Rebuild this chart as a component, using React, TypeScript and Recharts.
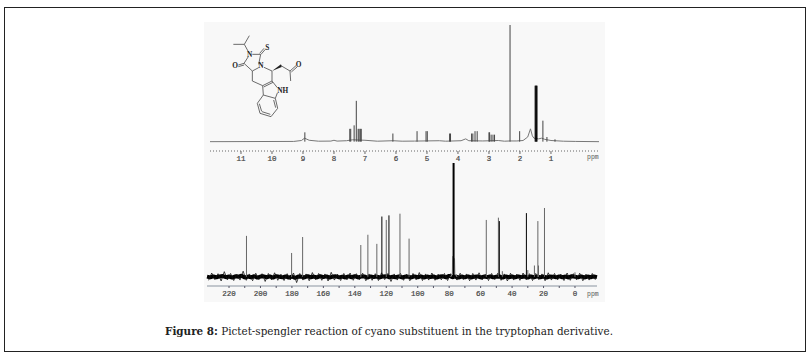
import React from "react";
import { LineChart, Line, XAxis, YAxis } from "recharts";

const CAPTION_LABEL = "Figure 8:";
const CAPTION_TEXT = " Pictet-spengler reaction of cyano substituent in the tryptophan derivative.";

// 1H spectrum
const protonTicks = [11, 10, 9, 8, 7, 6, 5, 4, 3, 2, 1];
const protonBasePpm = [12, 9.3, 9.05, 8.95, 8.8, 8.5, 8.1, 8.0, 7.9, 7.6, 7.4, 7.0, 6.6, 6.1, 5.8, 5.4, 4.6, 4.4, 3.9, 3.75, 3.65, 3.2, 2.7, 2.5, 2.32, 2.1, 1.9, 1.75, 1.66, 1.6, 1.55, 1.4, 1.3, 1.2, 1.0, 0.6, 0.2, -0.55];
const protonBase = [0, 0.2, 1, 3, 1.2, 0.4, 0.5, 1.2, 0.5, 0.8, 1.6, 1.2, 0.4, 0.8, 0.4, 0.5, 0.8, 0.4, 0.8, 2.4, 0.8, 0.6, 1, 0.4, 0.6, 0.6, 1, 4, 11, 5, 3, 2.4, 3, 2, 1, 0.4, 0.2, 0];
const protonPeakPpm = [8.94, 7.49, 7.46, 7.35, 7.28, 7.22, 7.19, 7.15, 7.12, 6.1, 5.32, 5.03, 4.99, 4.27, 4.24, 3.56, 3.52, 3.45, 3.38, 3.0, 2.98, 2.93, 2.87, 2.82, 2.32, 2.01, 1.26, 1.13, 0.87];
const protonPeakHeight = [8, 11, 11, 14, 35, 11, 11, 11, 11, 7, 9, 9, 9, 7, 7, 7, 7, 9, 9, 8, 8, 6, 6, 6, 100, 9, 18, 4, 2];
const protonDoubletPpm = [1.51, 1.49, 1.47, 1.45];
const protonDoubletHeight = [48, 48, 48, 48];

// 13C spectrum
const carbonTicks = [220, 210, 200, 190, 180, 170, 160, 150, 140, 130, 120, 110, 100, 90, 80, 70, 60, 50, 40, 30, 20, 10, 0];
const carbonLabels = [220, 200, 180, 160, 140, 120, 100, 80, 60, 40, 20, 0];
const carbonNoisePpm = [234, 232, 230, 228, 226, 224, 222, 220, 218, 216, 214, 212, 210, 208, 206, 204, 202, 200, 198, 196, 194, 192, 190, 188, 186, 184, 182, 180, 178, 176, 174, 172, 170, 168, 166, 164, 162, 160, 158, 156, 154, 152, 150, 148, 146, 144, 142, 140, 138, 136, 134, 132, 130, 128, 126, 124, 122, 120, 118, 116, 114, 112, 110, 108, 106, 104, 102, 100, 98, 96, 94, 92, 90, 88, 86, 84, 82, 80, 78, 76, 74, 72, 70, 68, 66, 64, 62, 60, 58, 56, 54, 52, 50, 48, 46, 44, 42, 40, 38, 36, 34, 32, 30, 28, 26, 24, 22, 20, 18, 16, 14, 12, 10, 8, 6, 4, 2, 0, -2, -4, -6, -8, -10, -12, -14];
const carbonNoise = [0.2, -0.4, 0.5, -0.5, 0.4, 0.7, -0.3, 0.3, -0.6, 0.5, 0.1, 1, -0.5, 0.3, -0.4, 0.6, -0.7, 0.3, 0.5, -0.3, 0.4, -0.6, 0.7, 0.1, -0.4, 0.5, -0.7, 0.3, -1, 0.4, 0.2, -0.5, 0.6, -0.3, 0.3, -0.5, 0.6, -0.2, 0.5, -0.6, 0.3, 0.5, -0.4, 0.2, -0.5, 0.4, -0.3, 0.6, -0.5, 0.3, 0.4, -0.6, 0.5, -0.2, 0.3, -0.5, 0.4, 0.6, -0.4, 0.2, -0.3, 0.5, -0.5, 0.3, 0.2, -0.5, 0.4, -0.3, 0.5, -0.5, 0.3, -0.2, 0.4, -0.6, 0.3, 0.5, -0.4, 1, -0.3, 0.5, -0.6, 0.3, -0.4, 0.4, -0.5, 0.2, 0.4, -0.5, 0.3, -0.2, 0.5, -0.4, 0.2, 0.4, -0.6, 0.5, -0.3, 0.3, -0.4, 0.5, -0.2, 0.3, -0.6, 0.4, -0.3, 0.5, -0.4, 0.3, -0.5, 0.3, 0.2, -0.4, 0.5, -0.3, 0.3, -0.5, 0.6, 0.2, -0.4, 0.4, -0.5, 0.3, -0.3, 0.4, -0.2];
const carbonSpikePpm = [233, 231, 229, 227, 225, 223, 221, 219, 217, 215, 213, 211, 209, 207, 205, 203, 201, 199, 197, 195, 193, 191, 189, 187, 185, 183, 181, 179, 177, 175, 173, 171, 169, 167, 165, 163, 161, 159, 157, 155, 153, 151, 149, 147, 145, 143, 141, 139, 137, 135, 133, 131, 129, 127, 125, 123, 121, 119, 117, 115, 113, 111, 109, 107, 105, 103, 101, 99, 97, 95, 93, 91, 89, 87, 85, 83, 81, 79, 75, 73, 71, 69, 67, 65, 63, 61, 59, 57, 55, 53, 51, 49, 47, 45, 43, 41, 39, 37, 35, 33, 31, 29, 27, 25, 23, 21, 19, 17, 15, 13, 11, 9, 7, 5, 3, 1, -1, -3, -5, -7, -9, -11, -13];
const carbonSpike = [-3, 3.4, -2.4, 2.8, -3.6, 4.6, -2.6, 3, -3.2, 2.4, -2.8, 5, -3, 2.6, -3.4, 3.2, -2.4, 2.8, -4, 3, -2.6, 3.6, -3, 2.4, -3.2, 2.8, -2.6, 3.4, -5, 3, -2.8, 2.6, -3.4, 3.8, -2.4, 3, -3, 2.6, -3.6, 4, -2.8, 2.4, -3.2, 3, -2.6, 3.4, -3, 2.8, -2.4, 3.2, -3.4, 2.6, -3, 2.8, -3.2, 3.6, -2.4, 3, -4, 2.6, -2.8, 3.2, -3, 2.4, -3.4, 3, -2.6, 3.8, -3.2, 2.6, -2.8, 3.4, -3, 2.4, -2.6, 3, -3.2, 2.8, -2.8, 3.2, -2.4, 2.6, -3.4, 3, -2.8, 3.6, -2.6, 2.4, -3.2, 3, -2.4, 3.4, -3, 2.6, -3.6, 3.2, -2.8, 2.4, -3, 3.4, -2.6, 2.8, -3.2, 3, -2.4, 2.6, -3.4, 3.6, -2.8, 3, -2.6, 2.4, -3.2, 3.4, -3, 2.8, -2.6, 3.2, -3.4, 2.4, -2.8, 3, -2.6];
const carbonPeakPpm = [208.9, 180.2, 173.2, 136.2, 131.7, 126, 120, 111.3, 105.5, 56.4, 48.7, 46.2, 30, 25.8, 23.6, 23.2, 19.4, 0];
const carbonPeakHeight = [36, 21, 35, 28, 37, 29, 50, 55.5, 33.6, 50, 52, 5, 6, 10, 49, 10, 60.5, 4];
const carbonDarkPpm = [122.8, 118.3, 48.1, 30.9];
const carbonDarkHeight = [53, 54, 49, 56];
const solventPpm = [77.2];
const solventHeight = [100];
const solventFootPpm = [79, 78, 77.8, 76.6, 76.3, 75];
const solventFoot = [0, 3, 18, 16, 3, 0];

type Row = { ppm: number; v: number | null };

const sticks = (ppm: number[], height: number[]): Row[] =>
  ppm.flatMap((p, i) => [{ ppm: p, v: 0 }, { ppm: p, v: height[i] }, { ppm: p, v: null }]);
const trace = (ppm: number[], v: number[]): Row[] => ppm.map((p, i) => ({ ppm: p, v: v[i] }));

const MONO = "'Liberation Mono', monospace";

function SpectrumTick({ x, y, payload, labels, size, color }: any) {
  const on = labels.includes(payload.value);
  return (
    <g>
      <line x1={x} x2={x} y1={y} y2={y + size} stroke={color} strokeWidth={1} />
      {on && (
        <text x={x} y={y + 10} textAnchor="middle" fontFamily={MONO} fontSize={7.5} fill="#444" stroke="#444" strokeWidth={0.2}>
          {payload.value}
        </text>
      )}
    </g>
  );
}

function Molecule() {
  const bonds = [
    [100, 88, 133, 88], [133, 88, 148, 62], [133, 88, 145, 110],
    [157, 118, 174, 118], [174, 118, 182, 118], [182, 118, 176, 148],
    [183, 118, 196, 103], [179, 115, 192, 100],
    [145, 125, 132, 145], [132, 145, 157, 168], [157, 168, 176, 158],
    [132, 145, 115, 150], [132, 150, 115, 155],
    [157, 168, 157, 198], [157, 198, 188, 212],
    [188, 212, 216, 198], [191, 216, 219, 202], [216, 198, 216, 168], [216, 168, 192, 157],
    [243, 152, 270, 168], [270, 168, 288, 152], [274, 171, 291, 156], [270, 168, 272, 198],
    [216, 198, 232, 218], [188, 212, 190, 240], [190, 240, 226, 250], [226, 250, 232, 234],
    [190, 240, 172, 265], [172, 265, 180, 295], [180, 295, 213, 305], [213, 305, 233, 280], [233, 280, 226, 250],
    [178, 266, 185, 289], [186, 290, 211, 298], [227, 278, 221, 255],
  ];
  return (
    <svg width={200} height={150} viewBox="0 0 600 450" style={{ position: "absolute", left: 200, top: 15 }}>
      {bonds.map((b, i) => (
        <line key={i} x1={b[0]} y1={b[1]} x2={b[2]} y2={b[3]} stroke="#555" strokeWidth={2.6} />
      ))}
      <polygon points="216,168 243,148 245,156" fill="#222" />
      <g fontFamily="'Liberation Serif', serif" fontWeight={700} fontSize={22} fill="#222" textAnchor="middle">
        <text x={149} y={126}>N</text>
        <text x={183} y={160}>N</text>
        <text x={202} y={104}>S</text>
        <text x={105} y={160}>O</text>
        <text x={296} y={157}>O</text>
        <text x={248} y={234}>NH</text>
      </g>
    </svg>
  );
}

export default function App() {
  return (
    <div style={{ position: "fixed", left: 0, top: 0, width: 812, height: 361, background: "#fff", overflow: "hidden" }}>
      <div style={{ position: "absolute", left: 4, top: 7, width: 802, height: 345, border: "1.5px solid #222", boxSizing: "border-box" }} />
      <div style={{ position: "absolute", left: 204, top: 22, width: 401, height: 280, background: "#f8f8f8" }} />

      <div style={{ position: "absolute", left: 204, top: 22 }}>
        <LineChart width={400} height={151} margin={{ left: 6, right: 5, top: 3, bottom: 2 }}>
          <XAxis
            type="number" dataKey="ppm" reversed domain={[12, -0.55]} ticks={protonTicks} interval={0} height={20}
            stroke="#666" strokeDasharray="1 2" tickLine={false} tickSize={0} tickMargin={0}
            tick={<SpectrumTick labels={protonTicks} size={3} color="#666" />}
          />
          <YAxis hide domain={[-8, 100]} />
          <Line data={trace(protonBasePpm, protonBase)} dataKey="v" type="linear" stroke="#777" strokeWidth={1} dot={false} isAnimationActive={false} />
          <Line data={sticks(protonPeakPpm, protonPeakHeight)} dataKey="v" type="linear" stroke="#444" strokeWidth={1} dot={false} isAnimationActive={false} />
          <Line data={sticks(protonDoubletPpm, protonDoubletHeight)} dataKey="v" type="linear" stroke="#000" strokeWidth={1} dot={false} isAnimationActive={false} />
        </LineChart>
      </div>
      <div style={{ position: "absolute", left: 587, top: 154, fontFamily: MONO, fontSize: 6.5, color: "#555" }}>ppm</div>

      <div style={{ position: "absolute", left: 204, top: 160 }}>
        <LineChart width={400} height={148} margin={{ left: 3, right: 7, top: 3, bottom: 2 }}>
          <XAxis
            type="number" dataKey="ppm" reversed domain={[234, -14.2]} ticks={carbonTicks} interval={0} height={20}
            stroke="#8a94a0" tickLine={false} tickSize={0} tickMargin={0}
            tick={<SpectrumTick labels={carbonLabels} size={2} color="#556" />}
          />
          <YAxis hide domain={[-8, 100]} />
          <Line data={trace(carbonNoisePpm, carbonNoise)} dataKey="v" type="linear" stroke="#000" strokeWidth={4} strokeLinejoin="bevel" dot={false} isAnimationActive={false} />
          <Line data={trace(carbonSpikePpm, carbonSpike)} dataKey="v" type="linear" stroke="#111" strokeWidth={0.8} dot={false} isAnimationActive={false} />
          <Line data={trace(solventFootPpm, solventFoot)} dataKey="v" type="linear" stroke="#999" strokeWidth={1} dot={false} isAnimationActive={false} />
          <Line data={sticks(carbonPeakPpm, carbonPeakHeight)} dataKey="v" type="linear" stroke="#666" strokeWidth={1} dot={false} isAnimationActive={false} />
          <Line data={sticks(carbonDarkPpm, carbonDarkHeight)} dataKey="v" type="linear" stroke="#000" strokeWidth={1} dot={false} isAnimationActive={false} />
          <Line data={sticks(solventPpm, solventHeight)} dataKey="v" type="linear" stroke="#000" strokeWidth={2} dot={false} isAnimationActive={false} />
        </LineChart>
      </div>
      <div style={{ position: "absolute", left: 587, top: 291, fontFamily: MONO, fontSize: 6.5, color: "#555" }}>ppm</div>

      <Molecule />

      <div style={{ position: "absolute", left: 165, top: 325, fontFamily: "'DejaVu Serif', serif", fontSize: 10.4, color: "#222", whiteSpace: "pre" }}>
        <b>{CAPTION_LABEL}</b>{CAPTION_TEXT}
      </div>
    </div>
  );
}
